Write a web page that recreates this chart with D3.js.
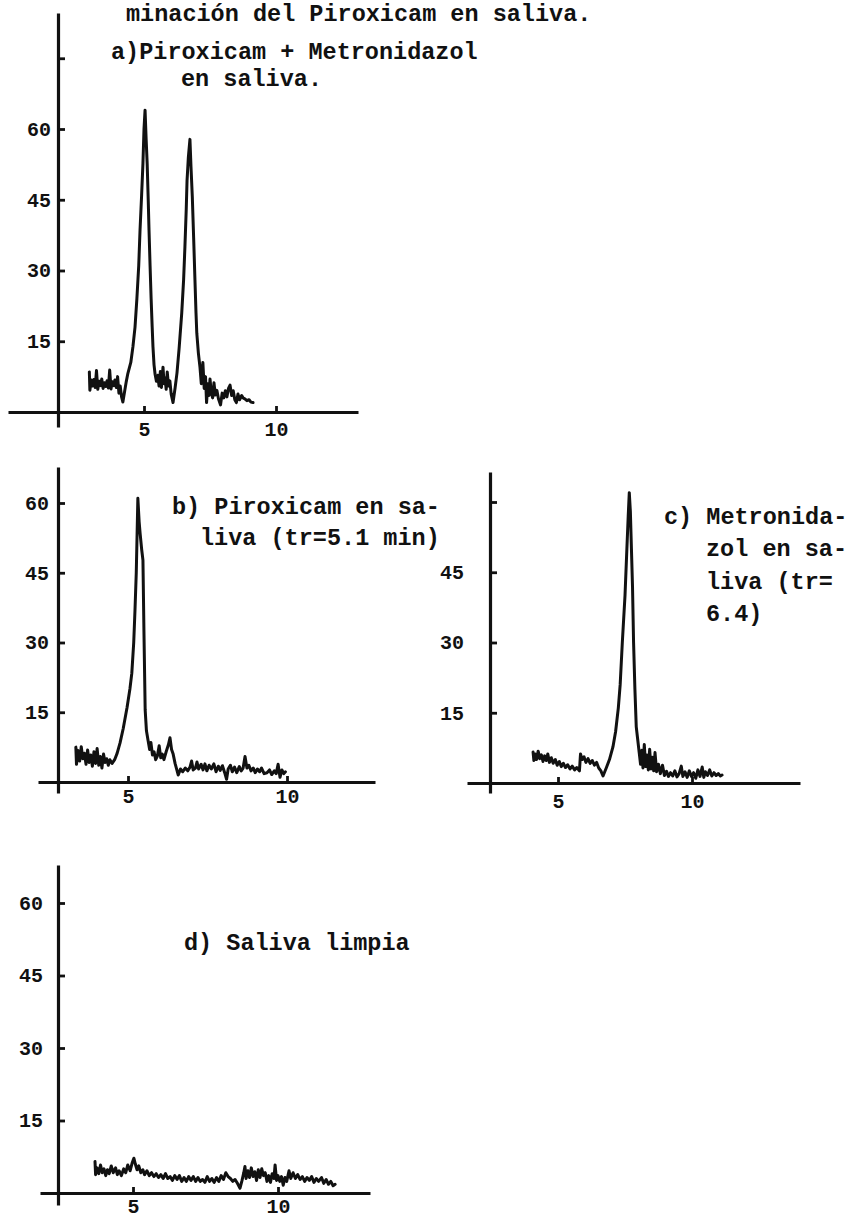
<!DOCTYPE html>
<html>
<head>
<meta charset="utf-8">
<script src="https://cdn.jsdelivr.net/npm/d3@7/dist/d3.min.js"></script>
<style>
  html, body { margin: 0; padding: 0; background: #fff; }
  svg { display: block; }
  .lbl { font-family: "Liberation Mono", "DejaVu Sans Mono", monospace; font-weight: bold; font-size: 23.5px; fill: #111; }
  .axis text { font-family: "Liberation Mono", "DejaVu Sans Mono", monospace; font-weight: bold; font-size: 20px; fill: #111; }
  .axis .domain { stroke: #111; stroke-width: 3.2px; }
  .axis .tick line { stroke: #111; stroke-width: 2.8px; }
  .trace { fill: none; stroke: #111; stroke-width: 3px; stroke-linejoin: round; stroke-linecap: round; }
</style>
</head>
<body>
<script>
// Retention time (min) and detector response for each chromatogram.
const traceA = [[2.93,8.5],[2.95,4.6],[3.0,6.8],[3.05,5.5],[3.1,6.9],[3.15,5.2],[3.2,8.8],[3.25,4.8],[3.3,6.5],[3.35,5.6],[3.4,7.0],[3.45,5.0],[3.5,6.2],[3.55,5.4],[3.6,6.6],[3.65,5.1],[3.7,8.9],[3.75,4.9],[3.8,6.4],[3.85,5.6],[3.9,6.8],[3.95,5.2],[4.0,7.5],[4.05,4.0],[4.1,5.5],[4.15,3.2],[4.2,2.1],[4.27,4.5],[4.33,6.5],[4.39,8.2],[4.5,10.5],[4.58,13.8],[4.66,18],[4.73,24],[4.8,31],[4.85,38.6],[4.91,46],[4.96,52.7],[5.0,60],[5.04,64],[5.08,58],[5.12,52.7],[5.16,45],[5.19,38.6],[5.23,31],[5.27,24],[5.31,18],[5.34,13.8],[5.38,10],[5.42,8],[5.47,6.5],[5.52,7.8],[5.57,5.5],[5.62,8.6],[5.66,5.2],[5.72,9.5],[5.76,6.0],[5.8,7.2],[5.84,4.8],[5.88,8.5],[5.93,5.5],[5.98,6.6],[6.03,3.8],[6.1,2.0],[6.18,5.2],[6.25,8.3],[6.33,13.5],[6.43,21],[6.5,28],[6.55,35],[6.6,43],[6.63,49],[6.68,54],[6.74,57.8],[6.78,52],[6.83,45.6],[6.88,37],[6.93,28],[6.97,21],[7.0,16.7],[7.06,12.5],[7.12,9.5],[7.17,6.0],[7.23,10.5],[7.28,5.0],[7.33,7.5],[7.37,2.0],[7.42,6.0],[7.46,3.5],[7.5,7.0],[7.55,4.0],[7.6,3.0],[7.65,6.2],[7.7,3.6],[7.76,4.6],[7.82,2.8],[7.9,1.5],[7.96,4.0],[8.02,3.0],[8.08,4.5],[8.14,3.2],[8.2,5.0],[8.26,5.7],[8.32,3.5],[8.38,4.5],[8.44,2.6],[8.5,2.0],[8.56,3.8],[8.62,2.6],[8.7,3.5],[8.75,3.0],[8.82,2.8],[8.9,2.4],[8.98,2.6],[9.05,2.1],[9.13,2.0]];

const traceB = [[3.36,7.5],[3.38,3.8],[3.43,6.8],[3.48,4.5],[3.53,7.6],[3.58,5.0],[3.63,6.2],[3.68,3.8],[3.73,6.9],[3.78,4.2],[3.83,5.8],[3.88,3.4],[3.93,6.5],[3.98,4.0],[4.03,7.2],[4.08,3.6],[4.13,5.5],[4.18,3.0],[4.23,6.0],[4.28,4.2],[4.33,5.0],[4.38,3.6],[4.43,4.8],[4.5,4.0],[4.58,4.8],[4.66,6.2],[4.75,8.4],[4.85,11.5],[4.97,16],[5.06,20],[5.12,23.4],[5.18,30],[5.22,37],[5.26,45],[5.28,51.4],[5.31,61],[5.35,56],[5.38,53.5],[5.43,50],[5.47,47.7],[5.5,33],[5.54,15.5],[5.58,11],[5.63,9.0],[5.68,7.0],[5.72,8.5],[5.77,5.8],[5.82,6.5],[5.87,4.8],[5.92,5.5],[5.98,7.8],[6.03,5.2],[6.08,6.0],[6.13,4.8],[6.2,6.5],[6.27,8.0],[6.32,9.5],[6.37,7.0],[6.42,6.0],[6.48,4.0],[6.54,2.5],[6.58,1.5],[6.65,2.8],[6.72,2.2],[6.8,3.0],[6.88,2.4],[6.95,3.2],[7.0,4.5],[7.05,2.6],[7.12,3.0],[7.17,4.3],[7.22,2.8],[7.3,3.8],[7.36,2.6],[7.42,3.9],[7.48,2.4],[7.55,3.6],[7.62,2.8],[7.7,3.9],[7.77,2.2],[7.84,3.4],[7.9,2.5],[7.97,3.5],[8.04,2.0],[8.1,0.6],[8.15,2.8],[8.22,3.6],[8.28,2.2],[8.35,3.2],[8.42,2.0],[8.5,3.3],[8.56,2.4],[8.62,3.0],[8.68,5.5],[8.74,3.0],[8.8,3.6],[8.87,2.4],[8.94,3.0],[9.0,2.0],[9.07,2.8],[9.14,2.2],[9.2,3.0],[9.28,1.8],[9.37,2.0],[9.45,2.6],[9.52,1.6],[9.6,2.4],[9.66,1.8],[9.72,3.8],[9.78,1.0],[9.84,2.6],[9.9,1.8],[9.95,2.2]];

const traceC = [[4.07,6.6],[4.1,4.8],[4.15,6.2],[4.2,5.0],[4.26,6.8],[4.32,5.2],[4.38,6.0],[4.44,4.6],[4.5,5.8],[4.56,4.8],[4.62,6.2],[4.68,4.4],[4.75,5.4],[4.82,4.2],[4.9,5.0],[4.97,3.8],[5.05,4.6],[5.12,3.5],[5.2,4.2],[5.28,3.3],[5.36,3.9],[5.45,3.0],[5.53,3.6],[5.62,2.8],[5.7,3.3],[5.8,2.6],[5.84,6.2],[5.9,5.0],[5.97,5.6],[6.04,4.4],[6.12,5.2],[6.2,4.2],[6.28,4.8],[6.36,3.8],[6.44,4.4],[6.52,3.2],[6.6,2.6],[6.68,1.5],[6.8,3.2],[6.92,5.0],[7.05,7.7],[7.15,11],[7.25,16],[7.32,21],[7.4,30],[7.5,40],[7.57,50],[7.62,57],[7.66,62],[7.7,58],[7.74,50],[7.78,42],[7.82,30],[7.87,20],[7.92,12],[7.97,9.5],[8.03,6.5],[8.08,4.0],[8.13,7.0],[8.17,3.2],[8.22,8.2],[8.27,3.5],[8.32,6.0],[8.37,2.8],[8.42,7.2],[8.47,3.0],[8.52,5.5],[8.57,2.6],[8.62,6.5],[8.68,2.4],[8.75,4.0],[8.82,2.0],[8.9,3.8],[8.97,1.6],[9.05,2.5],[9.12,1.4],[9.2,2.2],[9.28,1.5],[9.36,2.6],[9.44,1.3],[9.52,2.0],[9.6,3.6],[9.66,1.4],[9.74,2.4],[9.82,1.2],[9.9,2.6],[9.98,1.4],[10.06,2.2],[10.14,1.0],[10.22,2.8],[10.3,1.4],[10.38,3.4],[10.44,1.2],[10.5,2.4],[10.58,1.6],[10.66,2.8],[10.74,1.5],[10.82,2.2],[10.9,1.6],[10.98,2.0],[11.06,1.5],[11.12,1.7]];

const traceD = [[3.69,6.5],[3.71,3.8],[3.76,5.2],[3.82,4.0],[3.88,5.8],[3.94,4.2],[4.0,5.0],[4.06,3.6],[4.12,4.8],[4.18,4.0],[4.25,5.6],[4.32,4.2],[4.4,5.2],[4.46,3.8],[4.52,4.6],[4.6,3.6],[4.68,5.0],[4.75,4.2],[4.82,5.8],[4.9,4.6],[4.97,6.2],[5.03,7.2],[5.08,6.0],[5.14,4.8],[5.2,5.6],[5.27,4.2],[5.34,4.8],[5.4,3.8],[5.48,4.6],[5.56,3.6],[5.64,4.2],[5.72,3.4],[5.8,4.0],[5.88,3.2],[5.96,3.8],[6.04,3.0],[6.12,4.0],[6.2,3.0],[6.28,3.4],[6.36,2.6],[6.44,3.6],[6.52,2.8],[6.6,3.6],[6.68,2.4],[6.76,3.2],[6.84,2.4],[6.92,3.4],[7.0,2.6],[7.08,3.4],[7.16,2.4],[7.24,3.2],[7.32,2.4],[7.4,2.8],[7.48,2.2],[7.56,3.4],[7.64,2.4],[7.72,3.0],[7.8,2.2],[7.88,3.2],[7.96,2.4],[8.04,3.6],[8.12,2.8],[8.2,4.2],[8.28,3.4],[8.36,3.0],[8.44,2.4],[8.52,2.8],[8.6,2.0],[8.69,1.0],[8.76,2.6],[8.82,4.2],[8.86,5.5],[8.9,3.0],[8.96,4.6],[9.02,3.2],[9.08,5.2],[9.14,3.4],[9.2,4.4],[9.26,2.6],[9.32,4.8],[9.38,3.2],[9.44,5.0],[9.5,3.6],[9.56,4.2],[9.62,2.4],[9.68,3.6],[9.74,2.2],[9.8,4.0],[9.86,3.0],[9.9,5.8],[9.95,2.6],[10.0,3.6],[10.06,2.4],[10.12,3.4],[10.18,1.6],[10.24,3.2],[10.3,2.4],[10.38,4.6],[10.44,3.0],[10.52,4.2],[10.6,3.0],[10.68,3.8],[10.76,2.8],[10.84,3.4],[10.92,2.4],[11.0,3.2],[11.08,2.6],[11.16,3.4],[11.24,2.2],[11.32,3.0],[11.4,2.4],[11.5,3.2],[11.58,2.0],[11.66,2.8],[11.74,1.8],[11.82,2.4],[11.9,1.5],[11.97,1.8]];

// Axis ticks
const xTicks = [5, 10];
const yTicksA = [15, 30, 45, 60, 75];
const yLabelsA = [15, 30, 45, 60];
const yTicksB = [15, 30, 45, 60];
const yLabelsB = [15, 30, 45, 60];
const yTicksC = [15, 30, 45, 60];
const yLabelsC = [15, 30, 45];
const yTicksD = [15, 30, 45, 60];
const yLabelsD = [15, 30, 45, 60];

// Captions
const pageTitle = "minación del Piroxicam en saliva.";
const captionA = ["a)Piroxicam + Metronidazol", "en saliva."];
const captionB = ["b) Piroxicam en sa-", "liva (tr=5.1 min)"];
const captionC = ["c) Metronida-", "zol en sa-", "liva (tr=", "6.4)"];
const captionD = ["d) Saliva limpia"];

const W = 851, H = 1220;
const svg = d3.select("body").append("svg").attr("width", W).attr("height", H);

svg.append("text").attr("class", "lbl").attr("x", 126).attr("y", 21).text(pageTitle);

// Panel frames: pixel positions of axes and of the 5 / 10 min and 0 / 60 marks
const panels = [
  { trace: traceA, yTicks: yTicksA, yLabels: yLabelsA, caption: captionA,
    capPos: [[111, 59], [181, 86]],
    axisX: 58, x5: 144, x10: 276, xSpan: [8, 358], base: 412, y60: 129, ySpan: [13, 427], yPad: 7, xPad: 10 },
  { trace: traceB, yTicks: yTicksB, yLabels: yLabelsB, caption: captionB,
    capPos: [[172, 514], [200, 545]],
    axisX: 58, x5: 128, x10: 287, xSpan: [38, 375], base: 782, y60: 503, ySpan: [467, 793], yPad: 9, xPad: 7 },
  { trace: traceC, yTicks: yTicksC, yLabels: yLabelsC, caption: captionC,
    capPos: [[664, 524], [706, 556], [706, 589], [706, 621]],
    axisX: 490, x5: 558, x10: 692, xSpan: [467, 800], base: 783, y60: 502, ySpan: [472, 793], yPad: 26, xPad: 11 },
  { trace: traceD, yTicks: yTicksD, yLabels: yLabelsD, caption: captionD,
    capPos: [[184, 950]],
    axisX: 58, x5: 133, x10: 278, xSpan: [40, 370], base: 1193, y60: 903, ySpan: [865, 1205], yPad: 15, xPad: 6 }
];

panels.forEach(p => {
  const g = svg.append("g");
  const x = d3.scaleLinear().domain([5, 10]).range([p.x5, p.x10]);
  const y = d3.scaleLinear().domain([0, 60]).range([p.base, p.y60]);

  // scales stretched to the drawn length of each axis line
  const xAxisScale = d3.scaleLinear()
    .domain([x.invert(p.xSpan[0]), x.invert(p.xSpan[1])]).range(p.xSpan);
  const yAxisScale = d3.scaleLinear()
    .domain([y.invert(p.ySpan[1]), y.invert(p.ySpan[0])]).range([p.ySpan[1], p.ySpan[0]]);

  g.append("g").attr("class", "axis")
    .attr("transform", `translate(0,${p.base})`)
    .call(d3.axisBottom(xAxisScale).tickValues(xTicks)
      .tickSizeInner(-6).tickSizeOuter(0).tickPadding(p.xPad)
      .tickFormat(d3.format("d")));

  g.append("g").attr("class", "axis")
    .attr("transform", `translate(${p.axisX},0)`)
    .call(d3.axisLeft(yAxisScale).tickValues(p.yTicks)
      .tickSizeInner(-7).tickSizeOuter(0).tickPadding(p.yPad)
      .tickFormat(d => p.yLabels.includes(d) ? d3.format("d")(d) : ""));

  const line = d3.line().x(d => x(d[0])).y(d => y(d[1]));
  g.append("path").datum(p.trace).attr("class", "trace").attr("d", line);

  p.caption.forEach((t, i) => {
    g.append("text").attr("class", "lbl")
      .attr("x", p.capPos[i][0]).attr("y", p.capPos[i][1]).text(t);
  });
});
</script>
</body>
</html>
